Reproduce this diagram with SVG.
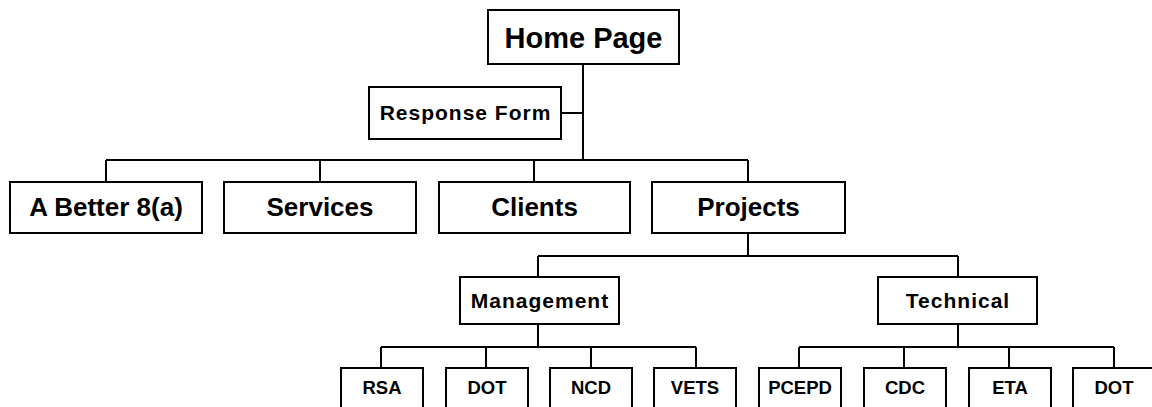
<svg xmlns="http://www.w3.org/2000/svg" width="1152" height="407" viewBox="0 0 1152 407">
  <style>
    .box { fill: #ffffff; stroke: #000000; stroke-width: 2; }
    .wire { fill: none; stroke: #000000; stroke-width: 2; }
    text { font-family: "Liberation Sans", Arial, sans-serif; font-weight: bold; fill: #000000; text-anchor: middle; }
    .t1 { font-size: 29px; }
    .t2 { font-size: 26px; }
    .t3 { font-size: 21px; letter-spacing: 1px; }
    .t4 { font-size: 18.5px; }
  </style>
  <rect width="1152" height="407" fill="#ffffff"/>

  <g id="connectors">
    <path class="wire" d="M583,64 V160"/>
    <path class="wire" d="M561,113 H583"/>
    <path class="wire" d="M106,160 H748 M106,160 V182 M320,160 V182 M534,160 V182 M748,160 V182"/>
    <path class="wire" d="M748,233 V256 M538,256 H958 M538,256 V277 M958,256 V277"/>
    <path class="wire" d="M538,324 V347 M381,347 H696 M381,347 V368 M486,347 V368 M591,347 V368 M696,347 V368"/>
    <path class="wire" d="M958,324 V347 M799,347 H1114 M799,347 V368 M904,347 V368 M1009,347 V368 M1114,347 V368"/>
  </g>

  <g id="home">
    <rect class="box" x="488" y="10" width="191" height="54"/>
    <text class="t1" x="583.5" y="48">Home Page</text>
  </g>
  <g id="response-form">
    <rect class="box" x="369" y="87" width="192" height="52"/>
    <text class="t3" x="465.5" y="120">Response Form</text>
  </g>

  <g id="better-8a">
    <rect class="box" x="10" y="182" width="192" height="51"/>
    <text class="t2" x="106" y="216">A Better 8(a)</text>
  </g>
  <g id="services">
    <rect class="box" x="224" y="182" width="192" height="51"/>
    <text class="t2" x="320" y="216">Services</text>
  </g>
  <g id="clients">
    <rect class="box" x="439" y="182" width="191" height="51"/>
    <text class="t2" x="534.5" y="216">Clients</text>
  </g>
  <g id="projects">
    <rect class="box" x="652" y="182" width="193" height="51"/>
    <text class="t2" x="748.5" y="216">Projects</text>
  </g>

  <g id="management">
    <rect class="box" x="460" y="277" width="159" height="47"/>
    <text class="t3" x="540" y="308">Management</text>
  </g>
  <g id="technical">
    <rect class="box" x="878" y="277" width="159" height="47"/>
    <text class="t3" x="958" y="308">Technical</text>
  </g>

  <g id="rsa">
    <rect class="box" x="341" y="368" width="82" height="60"/>
    <text class="t4" x="382" y="394">RSA</text>
  </g>
  <g id="dot-mgmt">
    <rect class="box" x="446" y="368" width="82" height="60"/>
    <text class="t4" x="487" y="394">DOT</text>
  </g>
  <g id="ncd">
    <rect class="box" x="550" y="368" width="82" height="60"/>
    <text class="t4" x="591" y="394">NCD</text>
  </g>
  <g id="vets">
    <rect class="box" x="654" y="368" width="82" height="60"/>
    <text class="t4" x="695" y="394">VETS</text>
  </g>
  <g id="pcepd">
    <rect class="box" x="759" y="368" width="82" height="60"/>
    <text class="t4" x="800" y="394">PCEPD</text>
  </g>
  <g id="cdc">
    <rect class="box" x="864" y="368" width="82" height="60"/>
    <text class="t4" x="905" y="394">CDC</text>
  </g>
  <g id="eta">
    <rect class="box" x="969" y="368" width="82" height="60"/>
    <text class="t4" x="1010" y="394">ETA</text>
  </g>
  <g id="dot-tech">
    <rect class="box" x="1073" y="368" width="82" height="60"/>
    <text class="t4" x="1114" y="394">DOT</text>
  </g>
</svg>
